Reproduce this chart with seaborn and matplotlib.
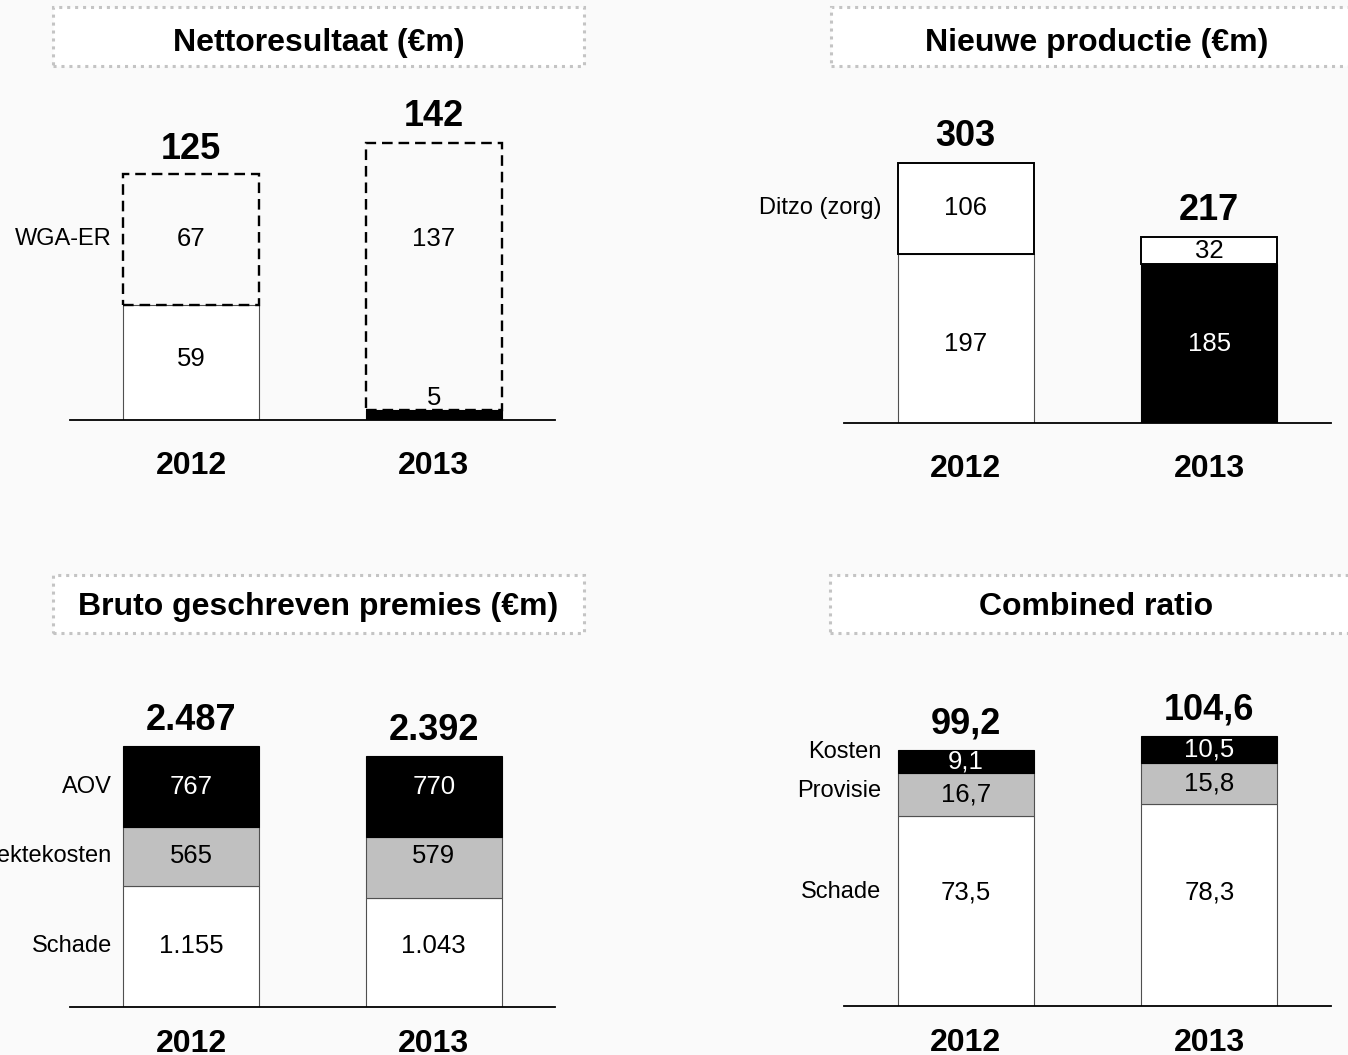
import numpy as np
import pandas as pd
import matplotlib
matplotlib.use("Agg")
import matplotlib.pyplot as plt
from matplotlib.patches import Rectangle
import seaborn as sns

# ---------------- data ----------------
years = ["2012", "2013"]

# Nettoresultaat (€m)
net_base = [59, 5]
net_wga = [67, 137]
net_total = [125, 142]
net_side_label = "WGA-ER"

# Nieuwe productie (€m)
np_base = [197, 185]
np_ditzo = [106, 32]
np_total = [303, 217]
np_side_label = "Ditzo (zorg)"

# Bruto geschreven premies (€m)
bgp_schade = [1155, 1043]
bgp_ziekte = [565, 579]
bgp_aov = [767, 770]
bgp_total = [2487, 2392]
bgp_side_labels = ["Schade", "Ziektekosten", "AOV"]

# Combined ratio
cr_schade = [73.5, 78.3]
cr_provisie = [16.7, 15.8]
cr_kosten = [9.1, 10.5]
cr_total = [99.2, 104.6]
cr_side_labels = ["Schade", "Provisie", "Kosten"]

titles = ["Nettoresultaat (€m)", "Nieuwe productie (€m)",
          "Bruto geschreven premies (€m)", "Combined ratio"]


def fmt_int(v):
    return f"{v:,}".replace(",", ".")


def fmt_dec(v):
    return f"{v:.1f}".replace(".", ",")


# ---------------- style ----------------
sns.set_style("white")
plt.rcParams["font.family"] = ["Liberation Sans", "DejaVu Sans"]
plt.rcParams["text.color"] = "black"
plt.rcParams["xtick.color"] = "black"
plt.rcParams["xtick.labelcolor"] = "black"
plt.rcParams["axes.labelcolor"] = "black"

W, H = 1348, 1055
BG = "#fafafa"
fig = plt.figure(figsize=(W / 100, H / 100), dpi=100, facecolor=BG)


def px_axes(left, right, base, top):
    ax = fig.add_axes([left / W, 1 - base / H, (right - left) / W, (base - top) / H])
    ax.set_facecolor("none")
    return ax


def title_box(x0, y0, x1, y1, text, cx, baseline):
    rect = Rectangle((x0 / W, 1 - y1 / H), (x1 - x0) / W, (y1 - y0) / H,
                     transform=fig.transFigure, facecolor="white",
                     edgecolor="#c4c4c4", linewidth=2.2,
                     linestyle=(0, (1, 1.6)), zorder=0, clip_on=True)
    fig.add_artist(rect)
    fig.text(cx / W, 1 - baseline / H, text, ha="center", va="baseline",
             fontsize=23, fontweight="bold", color="black")


def draw_layer(ax, values, bottoms, facecolors, edgecolors, lw, ls="-"):
    df = pd.DataFrame({"year": years, "value": values})
    sns.barplot(data=df, x="year", y="value", ax=ax, width=0.56,
                bottom=bottoms, color="white", errorbar=None)
    cont = ax.containers[-1]
    for p, fc, ec in zip(cont.patches, facecolors, edgecolors):
        p.set_facecolor(fc)
        p.set_edgecolor(ec)
        p.set_linewidth(lw)
        p.set_linestyle(ls)
        p.set_joinstyle("miter")


def finish_axes(ax, ymax, pad):
    ax.set_xlim(-0.5, 1.5)
    ax.set_ylim(0, ymax)
    ax.set_xlabel("")
    ax.set_ylabel("")
    ax.set_yticks([])
    for s in ["left", "right", "top"]:
        ax.spines[s].set_visible(False)
    ax.spines["bottom"].set_color("black")
    ax.spines["bottom"].set_linewidth(1.3)
    ax.set_xticks([0, 1])
    ax.set_xticklabels(years, fontsize=23, fontweight="bold", color="black")
    ax.tick_params(axis="x", length=0, pad=pad, labelcolor="black")


def seg_label(ax, x, y, text, color="black"):
    ax.text(x, y, text, ha="center", va="center", fontsize=18.5, color=color)


def total_label(ax, x, y, text):
    ax.annotate(text, (x, y), xytext=(0, 12), textcoords="offset points",
                ha="center", va="baseline", fontsize=26, fontweight="bold",
                color="black")


def side_label(ax, x, y, text):
    ax.text(x, y, text, ha="right", va="center", fontsize=17, color="black")


# ---------------- titles ----------------
title_box(53, 7, 584, 66, titles[0], 318.5, 51)
title_box(831, 7, 1363, 66, titles[1], 1097, 51)
title_box(53, 575, 584, 633, titles[2], 318.5, 615)
title_box(830, 575, 1362, 633, titles[3], 1096, 615)

# ---------------- panel 1: Nettoresultaat ----------------
ax1 = px_axes(70, 555, 420, 90)
draw_layer(ax1, net_base, [0, 0], ["white", "black"], ["#505050", "black"], 0.8)
draw_layer(ax1, net_wga, net_base, ["none", "none"], ["black", "black"], 1.7,
           (0, (4.5, 2.5)))
finish_axes(ax1, 169.1, 22)
row_wga = net_base[0] + net_wga[0] / 2
seg_label(ax1, 0, net_base[0] / 2 + 2, str(net_base[0]))
seg_label(ax1, 0, row_wga, str(net_wga[0]))
seg_label(ax1, 1, row_wga, str(net_wga[1]))
ax1.annotate(str(net_base[1]), (1, net_base[1]), xytext=(0, 4),
             textcoords="offset points", ha="center", va="baseline",
             fontsize=18.5, color="black")
for i in range(2):
    total_label(ax1, i, net_total[i], str(net_total[i]))
side_label(ax1, -0.327, row_wga, net_side_label)

# ---------------- panel 2: Nieuwe productie ----------------
ax2 = px_axes(844, 1331, 423, 90)
draw_layer(ax2, np_base, [0, 0], ["white", "black"], ["#505050", "black"], 0.8)
draw_layer(ax2, np_ditzo, np_base, ["white", "white"], ["black", "black"], 1.4)
finish_axes(ax2, 388.1, 22)
row_base = min(np_base) / 2
seg_label(ax2, 0, row_base, str(np_base[0]))
seg_label(ax2, 1, row_base, str(np_base[1]), color="white")
for i in range(2):
    seg_label(ax2, i, np_base[i] + np_ditzo[i] / 2, str(np_ditzo[i]))
    total_label(ax2, i, np_total[i], str(np_total[i]))
side_label(ax2, -0.347, np_base[0] + np_ditzo[0] / 2, np_side_label)

# ---------------- panel 3: Bruto geschreven premies ----------------
ax3 = px_axes(70, 555, 1007, 660)
b1 = bgp_schade
b2 = [a + b for a, b in zip(bgp_schade, bgp_ziekte)]
draw_layer(ax3, bgp_schade, [0, 0], ["white", "white"], ["#505050", "#505050"], 0.8)
draw_layer(ax3, bgp_ziekte, b1, ["#c0c0c0", "#c0c0c0"], ["#505050", "#505050"], 0.8)
draw_layer(ax3, bgp_aov, b2, ["black", "black"], ["black", "black"], 0.8)
finish_axes(ax3, 3311, 16)
rows3 = [bgp_schade[0] / 2, b1[0] + bgp_ziekte[0] / 2, b2[0] + bgp_aov[0] / 2]
for i in range(2):
    seg_label(ax3, i, rows3[0], fmt_int(bgp_schade[i]))
    seg_label(ax3, i, rows3[1], fmt_int(bgp_ziekte[i]))
    seg_label(ax3, i, rows3[2], fmt_int(bgp_aov[i]), color="white")
    total_label(ax3, i, bgp_total[i], fmt_int(bgp_total[i]))
for lab, y in zip(bgp_side_labels, rows3):
    side_label(ax3, -0.327, y, lab)

# ---------------- panel 4: Combined ratio ----------------
ax4 = px_axes(844, 1331, 1006, 660)
c1 = cr_schade
c2 = [a + b for a, b in zip(cr_schade, cr_provisie)]
draw_layer(ax4, cr_schade, [0, 0], ["white", "white"], ["#505050", "#505050"], 0.8)
draw_layer(ax4, cr_provisie, c1, ["#c0c0c0", "#c0c0c0"], ["#505050", "#505050"], 0.8)
draw_layer(ax4, cr_kosten, c2, ["black", "black"], ["black", "black"], 0.8)
finish_axes(ax4, 134.1, 16)
schade_row = cr_schade[0] * 0.6
for i in range(2):
    seg_label(ax4, i, schade_row, fmt_dec(cr_schade[i]))
    seg_label(ax4, i, c1[i] + cr_provisie[i] / 2, fmt_dec(cr_provisie[i]))
    seg_label(ax4, i, c2[i] + cr_kosten[i] / 2, fmt_dec(cr_kosten[i]), color="white")
    total_label(ax4, i, cr_total[i], fmt_dec(cr_total[i]))
side_label(ax4, -0.347, schade_row, cr_side_labels[0])
side_label(ax4, -0.347, c1[0] + cr_provisie[0] / 2 + 1.5, cr_side_labels[1])
side_label(ax4, -0.347, c2[0] + cr_kosten[0] / 2 + 3.5, cr_side_labels[2])

fig.savefig("out.png", dpi=100, facecolor=BG)
